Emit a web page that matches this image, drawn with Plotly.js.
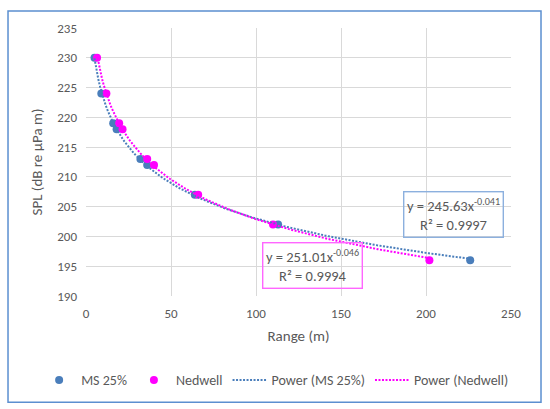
<!DOCTYPE html>
<html>
<head>
<meta charset="utf-8">
<script src="https://cdn.plot.ly/plotly-3.0.1.min.js"></script>
<style>
html,body{margin:0;padding:0;background:#fff;}
#chart{width:550px;height:409px;}
</style>
</head>
<body>
<div id="chart"></div>
<script>
// Data
const msRange = [5, 9, 16, 18, 32, 36, 64, 113, 226];
const msSPL = [230, 224, 219, 218, 213, 212, 207, 202, 196];
const nedRange = [6.5, 12, 19.5, 21.5, 36, 40, 66, 110, 202];
const nedSPL = [230, 224, 219, 218, 213, 212, 207, 202, 196];

const seriesNames = ['MS 25%', 'Nedwell', 'Power (MS 25%)', 'Power (Nedwell)'];
const msEquation = 'y = 245.63x<sup>-0.041</sup><br>R² = 0.9997';
const nedEquation = 'y = 251.01x<sup>-0.046</sup><br>R² = 0.9994';
const xTicks = [0, 50, 100, 150, 200, 250];
const yTicks = [190, 195, 200, 205, 210, 215, 220, 225, 230, 235];

// Least-squares power trendline (as the spreadsheet computes it) from the data arrays
function powerFit(xs, ys) {
  const n = xs.length;
  let sx = 0, sy = 0, sxx = 0, sxy = 0;
  for (let i = 0; i < n; i++) {
    const lx = Math.log(xs[i]), ly = Math.log(ys[i]);
    sx += lx; sy += ly; sxx += lx * lx; sxy += lx * ly;
  }
  const b = (n * sxy - sx * sy) / (n * sxx - sx * sx);
  const a = Math.exp((sy - b * sx) / n);
  const xmin = Math.min(...xs), xmax = Math.max(...xs);
  const cx = [], cy = [];
  const steps = 200;
  for (let k = 0; k <= steps; k++) {
    const x = xmin + (xmax - xmin) * k / steps;
    cx.push(x); cy.push(a * Math.pow(x, b));
  }
  return {x: cx, y: cy};
}

const msFit = powerFit(msRange, msSPL);
const nedFit = powerFit(nedRange, nedSPL);

const blue = '#4a7ebb';
const magenta = '#ff00ff';
const grey = '#595959';
const fontFam = 'Carlito, Lato, "Open Sans", sans-serif';

const traces = [
  {x: msRange, y: msSPL, name: seriesNames[0], type: 'scatter', mode: 'markers',
   marker: {color: blue, size: 8}},
  {x: nedRange, y: nedSPL, name: seriesNames[1], type: 'scatter', mode: 'markers',
   marker: {color: magenta, size: 8}},
  {x: msFit.x, y: msFit.y, name: seriesNames[2], type: 'scatter', mode: 'lines',
   line: {color: blue, width: 2, dash: '2px,1.5px'}, hoverinfo: 'skip'},
  {x: nedFit.x, y: nedFit.y, name: seriesNames[3], type: 'scatter', mode: 'lines',
   line: {color: magenta, width: 2, dash: '2px,1.5px'}, hoverinfo: 'skip'}
];

const layout = {
  width: 550, height: 409,
  margin: {l: 86, r: 39, t: 28, b: 111},
  paper_bgcolor: '#ffffff', plot_bgcolor: '#ffffff',
  font: {family: fontFam, size: 13, color: grey},
  showlegend: true,
  legend: {orientation: 'h', x: -0.115, xanchor: 'left', y: -0.315, yanchor: 'middle',
           font: {family: fontFam, size: 14, color: grey}, itemwidth: 34, tracegroupgap: 0},
  xaxis: {range: [0, 250], tickvals: xTicks, ticktext: xTicks.map(String),
          showgrid: true, gridcolor: '#d9d9d9', gridwidth: 1, zeroline: false,
          showline: false, ticks: '', ticklabelstandoff: 8,
          tickfont: {family: fontFam, size: 13, color: grey},
          title: {text: 'Range (m)', font: {family: fontFam, size: 15, color: grey}, standoff: 10}},
  yaxis: {range: [190, 235], tickvals: yTicks, ticktext: yTicks.map(String),
          showgrid: true, gridcolor: '#d9d9d9', gridwidth: 1, zeroline: false,
          showline: false, ticks: '', ticklabelstandoff: 8,
          tickfont: {family: fontFam, size: 13, color: grey},
          title: {text: 'SPL (dB re µPa m)', font: {family: fontFam, size: 15, color: grey}, standoff: 10}},
  annotations: [
    {x: 215.9, y: 203.75, xref: 'x', yref: 'y', text: msEquation, showarrow: false,
     font: {family: fontFam, size: 14.5, color: grey}, bordercolor: '#8cb0de', borderwidth: 1.4,
     borderpad: 2.5, align: 'center'},
    {x: 133.2, y: 195.1, xref: 'x', yref: 'y', text: nedEquation, showarrow: false,
     font: {family: fontFam, size: 14.5, color: grey}, bordercolor: '#ff66ff', borderwidth: 1.4,
     borderpad: 2.5, align: 'center'}
  ],
  shapes: [
    {type: 'rect', xref: 'paper', yref: 'paper', x0: -0.1835, x1: 1.0706, y0: -0.396, y1: 1.063,
     line: {color: '#5b8fd0', width: 1.5}, fillcolor: 'rgba(0,0,0,0)', layer: 'below'}
  ]
};

Plotly.newPlot('chart', traces, layout, {staticPlot: true, displayModeBar: false});
</script>
</body>
</html>
